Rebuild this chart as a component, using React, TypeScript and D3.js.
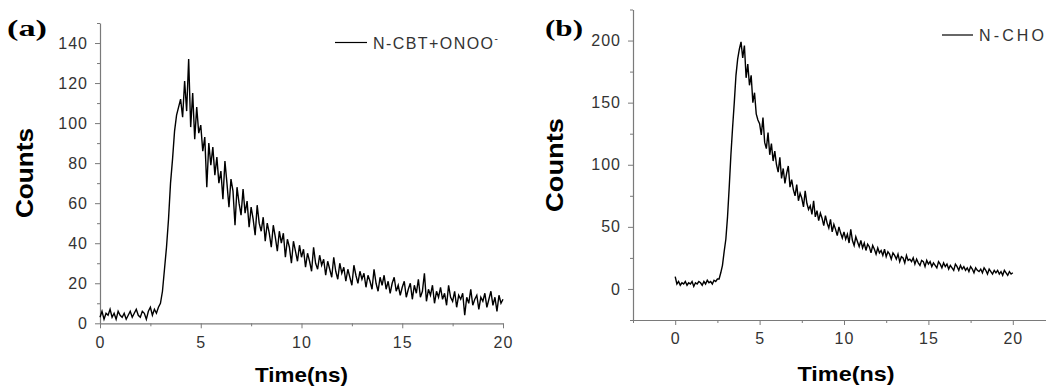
import React, { useEffect, useRef } from "react";
import * as d3 from "d3";

// decay traces are sampled every 0.1 ns starting at 0 ns
const T_STEP = 0.1;

// panel (a): N-CBT + ONOO-
const countsA = [
  3, 6, 2, 5, 4, 7, 3, 5, 2, 6, 4, 3, 5, 2, 4, 6, 3, 5, 7, 4, 3, 6, 5, 2, 6, 8, 4, 7, 5,
  8, 10, 16, 27, 38, 52, 70, 82, 96, 104, 108,
  112, 103, 121, 106, 132, 98, 115, 92, 108, 95,
  99, 86, 93, 68, 90, 79, 88, 74, 83, 70,
  76, 62, 81, 70, 58, 72, 66, 49, 68, 60,
  54, 67, 55, 61, 48, 58, 52, 44, 59, 50,
  46, 53, 41, 50, 45, 38, 49, 43, 36, 46,
  40, 45, 33, 42, 38, 30, 41, 36, 31, 39,
  33, 37, 28, 35, 31, 26, 38, 30, 27, 34,
  29, 32, 24, 31, 27, 23, 33, 26, 22, 30,
  25, 28, 21, 27, 23, 19, 29, 24, 20, 26,
  22, 25, 18, 24, 21, 17, 27, 20, 16, 23,
  19, 24, 17, 21, 15, 20, 23, 16, 19, 14,
  18, 21, 13, 17, 20, 12, 19, 15, 22, 13,
  16, 25, 11, 17, 14, 19, 10, 16, 13, 18,
  12, 15, 9, 19, 13, 11, 16, 8, 14, 12,
  15, 4, 13, 10, 17, 9, 12, 14, 7, 13,
  11, 15, 8, 12, 16, 9, 13, 6, 14, 10,
  12,
];

// panel (b): N-CHO
const countsB = [
  10, 4, 6, 3, 5, 4, 6, 3, 5, 4, 6, 2, 5, 4, 6, 5, 3, 6, 4, 7, 5, 6, 4, 7, 6, 8,
  8, 13, 19, 30, 40, 58, 82, 108, 130, 150, 172, 185, 193, 199,
  186, 196, 170, 181, 164, 172, 150, 158, 141, 136,
  133, 124, 138, 118, 113, 126, 108, 117, 103, 111,
  100, 94, 106, 89, 97, 85, 93, 99, 82, 88,
  80, 75, 84, 71, 77, 73, 66, 79, 69, 64,
  67, 60, 71, 58, 63, 55, 61, 57, 51, 59,
  53, 49, 56, 46, 52, 48, 43, 50, 45, 41,
  46, 40, 44, 37, 48, 39, 35, 42, 38, 34,
  39, 33, 37, 31, 36, 34, 29, 35, 32, 28,
  33, 29, 31, 27, 32, 26, 30, 28, 24, 29,
  27, 24, 28, 22, 26, 25, 21, 27, 23, 24,
  22, 25, 20, 24, 21, 19, 23, 22, 18, 23,
  20, 22, 18, 21, 19, 17, 22, 20, 17, 21,
  18, 20, 16, 19, 17, 15, 20, 18, 15, 19,
  16, 18, 15, 17, 14, 18, 16, 13, 17, 15,
  14, 16, 13, 17, 15, 12, 16, 14, 12, 15,
  13, 15, 12, 14, 11, 15, 13, 11, 14, 12,
  13,
];

const xTicks = [0, 5, 10, 15, 20];
const yTicksA = [0, 20, 40, 60, 80, 100, 120, 140];
const yTicksB = [0, 50, 100, 150, 200];

const panels = [
  {
    tag: "(a)",
    data: countsA,
    xDomain: [0, 20],
    xRange: [100, 503],
    yDomain: [0, 150],
    yRange: [323.3, 23],
    yTicks: yTicksA,
    yMinor: d3.range(10, 151, 20),
    xMinor: [2.5, 7.5, 12.5, 17.5],
    tagPos: [7, 36, 40],
    countsPos: [33, 173, 90],
    timePos: [301.5, 382, 93],
    legend: { x1: 335, x2: 367, y: 42.5, label: "N-CBT+ONOO", sup: "-", len: 120 },
  },
  {
    tag: "(b)",
    data: countsB,
    xDomain: [-2.5, 22.5],
    xRange: [633, 1055],
    yDomain: [-25, 225],
    yRange: [320, 9.5],
    yTicks: yTicksB,
    yMinor: [-25, 25, 75, 125, 175, 225],
    xMinor: [-2.5, 2.5, 7.5, 12.5, 17.5],
    tagPos: [545, 36, 38],
    countsPos: [563, 165, 94],
    timePos: [846, 381, 97],
    legend: { x1: 942, x2: 973, y: 35, label: "N-CHO", sup: "", len: 65 },
  },
];

const DecayCharts = () => {
  const svgRef = useRef<SVGSVGElement | null>(null);

  useEffect(() => {
    if (!svgRef.current) return;
    const svg = d3.select(svgRef.current);
    svg.selectAll("*").remove();

    panels.forEach((p) => {
      const x = d3.scaleLinear().domain(p.xDomain).range(p.xRange);
      const y = d3.scaleLinear().domain(p.yDomain).range(p.yRange);
      const g = svg.append("g");

      // minor ticks first, then the main axes
      const yAxisX = p.xRange[0];
      const xAxisY = p.yRange[0];

      g.append("g")
        .attr("transform", `translate(${yAxisX},0)`)
        .call(d3.axisLeft(y).tickValues(p.yMinor).tickSize(3).tickFormat(() => ""))
        .call((a) => a.select(".domain").remove());

      g.append("g")
        .attr("transform", `translate(0,${xAxisY})`)
        .call(d3.axisBottom(x).tickValues(p.xMinor).tickSize(3).tickFormat(() => ""))
        .call((a) => a.select(".domain").remove());

      g.append("g")
        .attr("transform", `translate(${yAxisX},0)`)
        .call(d3.axisLeft(y).tickValues(p.yTicks).tickSize(5).tickSizeOuter(0).tickPadding(7));

      g.append("g")
        .attr("transform", `translate(0,${xAxisY})`)
        .call(d3.axisBottom(x).tickValues(xTicks).tickSize(5).tickSizeOuter(0).tickPadding(8));

      g.selectAll("path.domain").attr("stroke", "#7a7a7a").attr("stroke-width", 1.2);
      g.selectAll(".tick line").attr("stroke", "#7a7a7a");
      g.selectAll(".tick text")
        .attr("fill", "#333")
        .style("font-family", "'Liberation Sans', Arial, sans-serif")
        .style("font-size", "16px")
        .style("letter-spacing", "1px");

      // decay trace
      const line = d3
        .line<number>()
        .x((_, i) => x(i * T_STEP))
        .y((d) => y(d));

      g.append("path")
        .datum(p.data)
        .attr("fill", "none")
        .attr("stroke", "#000")
        .attr("stroke-width", 1.4)
        .attr("d", line);

      // panel tag
      g.append("text")
        .attr("x", p.tagPos[0])
        .attr("y", p.tagPos[1])
        .attr("textLength", p.tagPos[2])
        .attr("lengthAdjust", "spacingAndGlyphs")
        .style("font-family", "'Liberation Serif', 'Times New Roman', serif")
        .style("font-weight", "bold")
        .style("font-size", "23px")
        .text(p.tag);

      // axis titles
      g.append("text")
        .attr("transform", `translate(${p.countsPos[0]},${p.countsPos[1]}) rotate(-90)`)
        .attr("text-anchor", "middle")
        .attr("textLength", p.countsPos[2])
        .attr("lengthAdjust", "spacingAndGlyphs")
        .style("font-family", "'Liberation Sans', Arial, sans-serif")
        .style("font-weight", "bold")
        .style("font-size", "23px")
        .text("Counts");

      g.append("text")
        .attr("x", p.timePos[0])
        .attr("y", p.timePos[1])
        .attr("text-anchor", "middle")
        .attr("textLength", p.timePos[2])
        .attr("lengthAdjust", "spacingAndGlyphs")
        .style("font-family", "'Liberation Sans', Arial, sans-serif")
        .style("font-weight", "bold")
        .style("font-size", "21px")
        .text("Time(ns)");

      // legend
      const lg = p.legend;
      g.append("line")
        .attr("x1", lg.x1)
        .attr("x2", lg.x2)
        .attr("y1", lg.y)
        .attr("y2", lg.y)
        .attr("stroke", "#000")
        .attr("stroke-width", 1.2);

      const lt = g
        .append("text")
        .attr("x", lg.x2 + 6)
        .attr("y", lg.y + 6)
        .attr("fill", "#333")
        .style("font-family", "'Liberation Sans', Arial, sans-serif")
        .style("font-size", "16px");
      lt.append("tspan").attr("textLength", lg.len).attr("lengthAdjust", "spacing").text(lg.label);
      if (lg.sup) {
        lt.append("tspan").attr("dy", -7).style("font-size", "10px").text(lg.sup);
      }
    });
  }, []);

  return (
    <svg
      ref={svgRef}
      width={1046}
      height={390}
      style={{ position: "absolute", left: 0, top: 0, background: "#fff" }}
    ></svg>
  );
};

export default function App() {
  return <DecayCharts />;
}
